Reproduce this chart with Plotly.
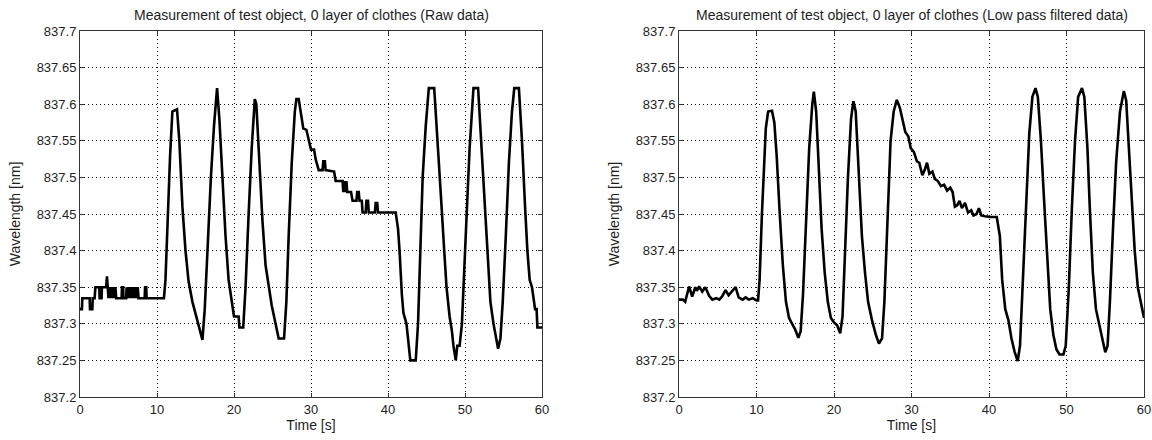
import plotly.graph_objects as go

# ---------------- data ----------------
raw_time = [0.0, 0.25, 0.3, 1.25, 1.3, 1.6, 1.65, 1.9, 2.0, 2.5, 2.55, 2.8, 2.85, 3.4, 3.5, 3.6,
            3.7, 3.8, 3.9, 4.0, 4.1, 4.2, 4.3, 4.4, 4.5, 4.6, 4.7, 5.4, 5.45, 5.6, 5.65, 6.0,
            6.05, 6.2, 6.3, 6.4, 6.5, 6.6, 6.7, 6.8, 6.9, 7.0, 7.1, 7.2, 7.3, 7.4, 7.5, 7.6,
            8.4, 8.45, 8.6, 8.65, 10.9,
            11.1, 11.4, 11.7, 12.0, 12.6, 12.9, 13.3, 13.7, 14.1, 14.6, 15.2, 15.6, 15.9,
            16.2, 16.6, 17.0, 17.4, 17.8, 18.1, 18.5, 18.9, 19.3, 19.7, 20.0, 20.6, 20.7,
            21.2, 21.5, 21.9, 22.3, 22.7, 22.9, 23.3, 23.7, 24.1, 24.5, 24.9, 25.4, 25.8,
            26.5, 26.8, 27.1, 27.5, 27.9, 28.1, 28.4, 28.8, 29.0, 29.4, 29.6, 30.0, 30.4,
            30.6, 31.0, 31.5, 31.6, 31.8, 31.9, 33.0, 33.2, 34.1, 34.2, 34.3, 34.5, 34.6,
            34.7, 35.2, 35.4, 35.9, 36.0, 36.2, 36.3, 36.6, 36.7, 37.1, 37.2, 37.4, 37.5,
            38.3, 38.4, 38.6, 38.7, 41.0, 41.3, 41.5, 41.8, 42.0, 42.4, 42.8, 42.9, 43.6,
            43.9, 44.2, 44.5, 44.9, 45.3, 46.0, 46.4, 46.9, 47.3, 47.6, 48.0, 48.3, 48.5,
            48.8, 49.0, 49.3, 49.6, 49.9, 50.3, 50.6, 50.9, 51.1, 51.7, 52.1, 52.5, 52.9,
            53.3, 53.7, 54.0, 54.3, 54.6, 54.9, 55.3, 55.7, 56.1, 56.4, 57.0, 57.4, 57.8,
            58.1, 58.4, 58.7, 58.9, 59.1, 59.3, 59.4, 60.0]
raw_wavelength = [837.320, 837.320, 837.335, 837.335, 837.320, 837.320, 837.335, 837.335, 837.350,
                  837.350, 837.335, 837.335, 837.350, 837.350, 837.365, 837.350,
                  837.335, 837.350, 837.335, 837.350, 837.335, 837.350, 837.335, 837.350, 837.335,
                  837.350, 837.335, 837.335, 837.350, 837.350, 837.335, 837.335,
                  837.350, 837.335, 837.350, 837.335, 837.350, 837.335, 837.350, 837.335, 837.350,
                  837.335, 837.350, 837.335, 837.350, 837.335, 837.350, 837.335,
                  837.335, 837.350, 837.350, 837.335, 837.335,
                  837.360, 837.450, 837.530, 837.590, 837.593, 837.550, 837.460, 837.400, 837.358,
                  837.330, 837.305, 837.290, 837.278,
                  837.320, 837.420, 837.500, 837.570, 837.622, 837.580, 837.490, 837.420, 837.360,
                  837.330, 837.310, 837.310, 837.295,
                  837.295, 837.350, 837.450, 837.540, 837.607, 837.600, 837.520, 837.440, 837.380,
                  837.350, 837.325, 837.300, 837.280,
                  837.280, 837.330, 837.420, 837.520, 837.590, 837.607, 837.607, 837.580, 837.567,
                  837.565, 837.555, 837.538, 837.538,
                  837.525, 837.510, 837.510, 837.522, 837.522, 837.510, 837.508, 837.495, 837.495,
                  837.480, 837.495, 837.480, 837.495,
                  837.480, 837.480, 837.468, 837.468, 837.480, 837.480, 837.468, 837.468, 837.452,
                  837.452, 837.468, 837.468, 837.452,
                  837.452, 837.465, 837.465, 837.452, 837.452, 837.430, 837.400, 837.340, 837.315,
                  837.300, 837.260, 837.250, 837.250,
                  837.300, 837.400, 837.500, 837.570, 837.622, 837.622, 837.560, 837.470, 837.400,
                  837.350, 837.310, 837.290, 837.270,
                  837.250, 837.270, 837.270, 837.300, 837.380, 837.470, 837.540, 837.600, 837.622,
                  837.622, 837.550, 837.470, 837.390,
                  837.330, 837.300, 837.285, 837.266, 837.280, 837.330, 837.420, 837.520, 837.590,
                  837.622, 837.622, 837.550, 837.460,
                  837.400, 837.360, 837.350, 837.335, 837.320, 837.320, 837.295, 837.295]

filt_time = [0.0, 0.5, 0.8, 1.3, 1.7, 2.1, 2.3, 2.6, 3.0, 3.4, 3.9, 4.3, 4.8, 5.2, 5.6, 6.0,
             6.4, 6.9, 7.3, 7.7, 8.2, 8.6, 9.0, 9.5, 10.0, 10.2, 10.4, 10.7, 11.0, 11.2,
             11.5, 12.0, 12.3, 12.6, 13.0, 13.4, 13.8, 14.2, 14.6, 15.0, 15.4, 15.7, 16.0,
             16.4, 16.8, 17.2, 17.4, 17.7, 18.0, 18.4, 18.8, 19.2, 19.6, 20.0, 20.4, 20.8,
             21.1, 21.4, 21.8, 22.2, 22.5, 22.8, 23.2, 23.6, 24.0, 24.4, 24.9, 25.4, 25.8,
             26.2, 26.5, 26.9, 27.3, 27.7, 28.1, 28.5, 28.9, 29.2, 29.6, 29.9, 30.3, 30.7,
             31.0, 31.4, 31.7, 32.0, 32.3, 32.7, 33.0, 33.4, 33.8, 34.2, 34.6, 35.0, 35.3,
             35.6, 35.9, 36.2, 36.5, 36.9, 37.3, 37.7, 38.0, 38.4, 38.7, 39.0, 39.5, 40.2,
             41.0, 41.4, 41.7, 42.1, 42.5, 42.9, 43.3, 43.7, 44.0, 44.4, 44.8, 45.2, 45.6,
             46.0, 46.3, 46.7, 47.1, 47.5, 47.9, 48.3, 48.7, 49.1, 49.6, 49.9, 50.3, 50.7,
             51.1, 51.5, 52.0, 52.3, 52.7, 53.0, 53.4, 53.8, 54.2, 54.6, 55.0, 55.3, 55.6,
             56.0, 56.4, 56.9, 57.4, 57.7, 58.0, 58.4, 58.8, 59.2, 59.6, 60.0]
filt_wavelength = [837.333, 837.333, 837.330, 837.351, 837.337, 837.350, 837.345, 837.351, 837.344,
                   837.350, 837.338, 837.333, 837.335, 837.333, 837.338, 837.346,
                   837.339, 837.345, 837.350, 837.336, 837.333, 837.336, 837.333, 837.335, 837.332,
                   837.332, 837.360, 837.450, 837.530, 837.567,
                   837.590, 837.591, 837.575, 837.530, 837.450, 837.380, 837.330, 837.308, 837.300,
                   837.292, 837.281, 837.290, 837.340,
                   837.440, 837.540, 837.600, 837.617, 837.590, 837.520, 837.430, 837.370, 837.330,
                   837.308, 837.302, 837.298, 837.287,
                   837.310, 837.390, 837.500, 837.580, 837.604, 837.590, 837.510, 837.420, 837.370,
                   837.330, 837.305, 837.285, 837.273,
                   837.280, 837.330, 837.450, 837.550, 837.590, 837.606, 837.595, 837.575, 837.562,
                   837.556, 837.540, 837.535, 837.522,
                   837.520, 837.503, 837.510, 837.520, 837.505, 837.508, 837.498, 837.495, 837.488,
                   837.490, 837.482, 837.486, 837.480,
                   837.460, 837.462, 837.468, 837.458, 837.465, 837.452, 837.455, 837.448, 837.450,
                   837.458, 837.448, 837.447, 837.446,
                   837.446, 837.420, 837.360, 837.320, 837.305, 837.280, 837.262, 837.249, 837.270,
                   837.370, 837.480, 837.560, 837.610,
                   837.622, 837.610, 837.550, 837.470, 837.390, 837.320, 837.285, 837.265, 837.258,
                   837.258, 837.270, 837.350, 837.460,
                   837.550, 837.610, 837.622, 837.610, 837.540, 837.460, 837.370, 837.320, 837.300,
                   837.280, 837.261, 837.270, 837.330,
                   837.430, 837.520, 837.590, 837.618, 837.605, 837.550, 837.470, 837.400, 837.350,
                   837.330, 837.308]

x_tick_labels = ["0", "10", "20", "30", "40", "50", "60"]
y_tick_labels = ["837.2", "837.25", "837.3", "837.35", "837.4", "837.45",
                 "837.5", "837.55", "837.6", "837.65", "837.7"]

titles = ["Measurement of test object, 0 layer of clothes (Raw data)",
          "Measurement of test object, 0 layer of clothes (Low pass filtered data)"]
x_title = "Time [s]"
y_title = "Wavelength [nm]"

# ---------------- figure ----------------
W, H = 1152, 440
FONT = "Liberation Sans"
TXT = "#1e1e1e"


def px_x(p):
    return p / W


def px_y(p):
    return 1 - p / H


fig = go.Figure()
fig.add_trace(go.Scatter(x=raw_time, y=raw_wavelength, mode="lines",
                         line=dict(color="black", width=2.6), xaxis="x", yaxis="y",
                         showlegend=False, hoverinfo="skip"))
fig.add_trace(go.Scatter(x=filt_time, y=filt_wavelength, mode="lines",
                         line=dict(color="black", width=2.6), xaxis="x2", yaxis="y2",
                         showlegend=False, hoverinfo="skip"))

left_dom = [px_x(80), px_x(542)]
right_dom = [px_x(679), px_x(1144)]
y_dom = [px_y(397), px_y(31)]

xvals = [float(v) for v in x_tick_labels]
yvals = [float(v) for v in y_tick_labels]
GRID_DASH = "1px,3px"


def xaxis(dom, anchor):
    return dict(domain=dom, anchor=anchor, range=[0, 60], tickvals=xvals, ticktext=x_tick_labels,
                showgrid=True, gridcolor="#111", griddash=GRID_DASH, gridwidth=1,
                showline=True, linecolor="#333", linewidth=1, mirror="ticks",
                ticks="inside", ticklen=4, tickcolor="#333",
                tickfont=dict(family=FONT, size=13, color=TXT), zeroline=False,
                title=dict(text=x_title, font=dict(family=FONT, size=14, color=TXT), standoff=3),
                automargin=False)


def yaxis(dom, anchor):
    return dict(domain=dom, anchor=anchor, range=[837.2, 837.7], tickvals=yvals,
                ticktext=y_tick_labels,
                showgrid=True, gridcolor="#111", griddash=GRID_DASH, gridwidth=1,
                showline=True, linecolor="#333", linewidth=1, mirror="ticks",
                ticks="inside", ticklen=4, tickcolor="#333",
                tickfont=dict(family=FONT, size=13, color=TXT), zeroline=False,
                title=dict(text=y_title, font=dict(family=FONT, size=14, color=TXT), standoff=12),
                automargin=False)


fig.update_layout(
    width=W, height=H,
    margin=dict(l=0, r=0, t=0, b=0),
    paper_bgcolor="white", plot_bgcolor="white",
    hovermode=False,
    xaxis=xaxis(left_dom, "y"), yaxis=yaxis(y_dom, "x"),
    xaxis2=xaxis(right_dom, "y2"), yaxis2=yaxis(y_dom, "x2"),
)

for dom, t in zip([left_dom, right_dom], titles):
    fig.add_annotation(text=t, x=(dom[0] + dom[1]) / 2, y=px_y(15),
                       xref="paper", yref="paper",
                       xanchor="center", yanchor="middle", showarrow=False,
                       font=dict(family=FONT, size=14, color=TXT))

fig.write_html("out.html",
               config={"displayModeBar": False},
               post_script="document.body.style.margin='0';"
                           "document.body.style.overflow='hidden';")
